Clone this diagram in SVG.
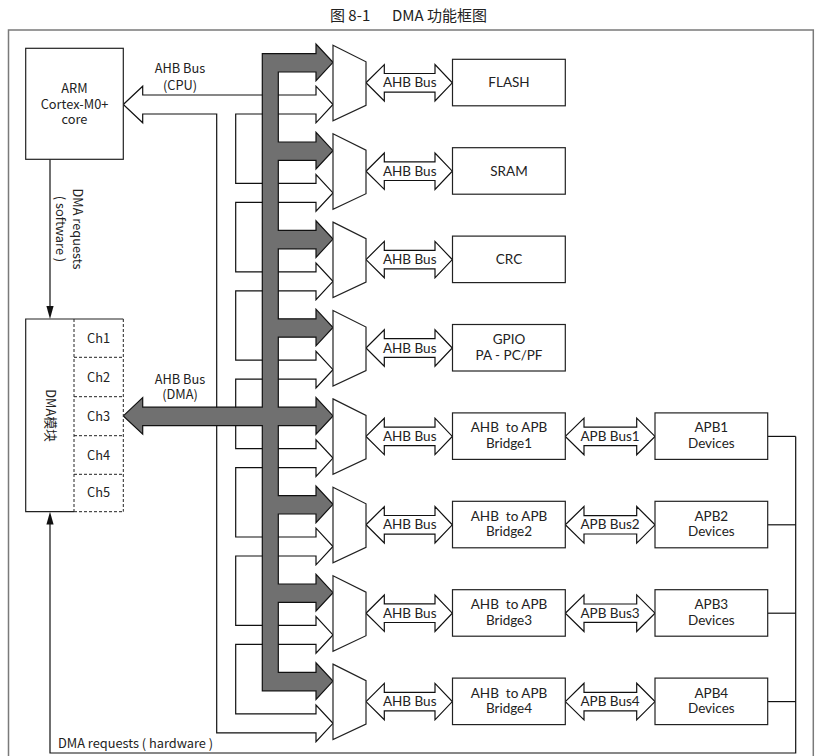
<svg xmlns="http://www.w3.org/2000/svg" width="820" height="756" viewBox="0 0 820 756">
<style>
.frame{fill:none;stroke:#7a7a7a;stroke-width:1.5}
.box{fill:#fff;stroke:#222;stroke-width:1.2}
.mux{fill:#fff;stroke:#222;stroke-width:1.2}
.dash{fill:none;stroke:#222;stroke-width:1;stroke-dasharray:3,2}
.ln{fill:none;stroke:#111;stroke-width:1.2}
.bus{fill:#fff;stroke:#111;stroke-width:1.2;stroke-linejoin:miter}
.gbus{fill:#707070;stroke:#111;stroke-width:1.2;stroke-linejoin:miter}
.ah{fill:#111;stroke:none}
.tl{font-family:"Noto Sans CJK SC","Noto Sans",sans-serif;font-size:12.8px;fill:#222;text-anchor:middle}
.tr{font-family:"Lato","Noto Sans",sans-serif;font-size:13.5px;fill:#222;text-anchor:middle}
.tt{font-family:"Noto Sans CJK SC","Noto Sans",sans-serif;font-size:15px;fill:#222}
</style>
<text class="tt" x="330" y="21">图 8-1</text>
<text class="tt" x="392" y="21">DMA 功能框图</text>
<rect class="frame" x="8.5" y="30" width="804.8" height="740"/>

<g id="connectors">
  <path class="bus" d="M123.3,104.5 L142.7,86.2 V95 H316 V86.2 L333,104.5 L316,122.8 V114 H235.7 V183.4 H316 V174.6 L333,192.9 L316,211.2 V202.4 H235.7 V271.8 H316 V263 L333,281.3 L316,299.6 V290.8 H235.7 V360.2 H316 V351.4 L333,369.7 L316,388 V379.2 H235.7 V448.6 H316 V439.8 L333,458.1 L316,476.4 V467.6 H235.7 V537 H316 V528.2 L333,546.5 L316,564.8 V556 H235.7 V625.4 H316 V616.6 L333,634.9 L316,653.2 V644.4 H235.7 V713.8 H316 V705 L333,723.3 L316,741.6 V732.8 H216.7 V114 H142.7 V122.8 Z"/>
  <path class="gbus" d="M262.3,53.6 H316 V44 L333,62.3 L316,80.6 V72 H278.3 V142 H316 V132.4 L333,150.7 L316,169 V160.4 H278.3 V230.4 H316 V220.8 L333,239.1 L316,257.4 V248.8 H278.3 V318.8 H316 V309.2 L333,327.5 L316,345.8 V337.2 H278.3 V407.2 H316 V397.6 L333,415.9 L316,434.2 V425.6 H278.3 V495.6 H316 V486 L333,504.3 L316,522.6 V514 H278.3 V584 H316 V574.4 L333,592.7 L316,611 V602.4 H278.3 V672.4 H316 V662.8 L333,681.1 L316,699.4 V690.8 H262.3 V425.6 H142.7 V434.2 L123.3,415.9 L142.7,397.6 V407.2 H262.3 Z"/>
  <line class="ln" x1="50" y1="159.3" x2="50" y2="307"/>
  <polygon class="ah" points="46.4,306 53.6,306 50,319"/>
  <polyline class="ln" points="767.7,436.4 795.7,436.4"/>
  <polyline class="ln" points="767.7,524.8 795.7,524.8"/>
  <polyline class="ln" points="767.7,613.2 795.7,613.2"/>
  <polyline class="ln" points="767.7,701.6 795.7,701.6"/>
  <polyline class="ln" points="795.7,436.4 795.7,753 50,753 50,523"/>
  <polygon class="ah" points="46.4,524.5 53.6,524.5 50,511.7"/>
  <g transform="translate(0,45.3)"><path class="bus" d="M366,37.5 L384.3,19.3 V28.2 H435 V19.3 L452.3,37.5 L435,55.7 V46.8 H384.3 V55.7 Z"/></g>
  <g transform="translate(0,133.7)"><path class="bus" d="M366,37.5 L384.3,19.3 V28.2 H435 V19.3 L452.3,37.5 L435,55.7 V46.8 H384.3 V55.7 Z"/></g>
  <g transform="translate(0,222.1)"><path class="bus" d="M366,37.5 L384.3,19.3 V28.2 H435 V19.3 L452.3,37.5 L435,55.7 V46.8 H384.3 V55.7 Z"/></g>
  <g transform="translate(0,310.5)"><path class="bus" d="M366,37.5 L384.3,19.3 V28.2 H435 V19.3 L452.3,37.5 L435,55.7 V46.8 H384.3 V55.7 Z"/></g>
  <g transform="translate(0,398.9)"><path class="bus" d="M366,37.5 L384.3,19.3 V28.2 H435 V19.3 L452.3,37.5 L435,55.7 V46.8 H384.3 V55.7 Z"/><path class="bus" d="M565.3,37.5 L584,19.2 V28.3 H636.7 V19.2 L655,37.5 L636.7,55.8 V46.7 H584 V55.8 Z"/></g>
  <g transform="translate(0,487.3)"><path class="bus" d="M366,37.5 L384.3,19.3 V28.2 H435 V19.3 L452.3,37.5 L435,55.7 V46.8 H384.3 V55.7 Z"/><path class="bus" d="M565.3,37.5 L584,19.2 V28.3 H636.7 V19.2 L655,37.5 L636.7,55.8 V46.7 H584 V55.8 Z"/></g>
  <g transform="translate(0,575.7)"><path class="bus" d="M366,37.5 L384.3,19.3 V28.2 H435 V19.3 L452.3,37.5 L435,55.7 V46.8 H384.3 V55.7 Z"/><path class="bus" d="M565.3,37.5 L584,19.2 V28.3 H636.7 V19.2 L655,37.5 L636.7,55.8 V46.7 H584 V55.8 Z"/></g>
  <g transform="translate(0,664.1)"><path class="bus" d="M366,37.5 L384.3,19.3 V28.2 H435 V19.3 L452.3,37.5 L435,55.7 V46.8 H384.3 V55.7 Z"/><path class="bus" d="M565.3,37.5 L584,19.2 V28.3 H636.7 V19.2 L655,37.5 L636.7,55.8 V46.7 H584 V55.8 Z"/></g>
  <text class="tl" x="180" y="73">AHB Bus</text>
  <text class="tl" x="180" y="89.5">(CPU)</text>
  <text class="tl" x="180" y="384">AHB Bus</text>
  <text class="tl" x="180" y="399">(DMA)</text>
  <g transform="translate(72.5,229) rotate(90)"><text class="tl" x="0" y="0">DMA requests</text><text class="tl" x="0" y="16.5">( software )</text></g>
  <text class="tl" x="58" y="748" style="text-anchor:start">DMA requests ( hardware )</text>
  <g class="tr">
    <text x="409.7" y="87.3">AHB Bus</text>
    <text x="409.7" y="175.7">AHB Bus</text>
    <text x="409.7" y="264.1">AHB Bus</text>
    <text x="409.7" y="352.5">AHB Bus</text>
    <text x="409.7" y="440.9">AHB Bus</text>
    <text x="409.7" y="529.3">AHB Bus</text>
    <text x="409.7" y="617.7">AHB Bus</text>
    <text x="409.7" y="706.1">AHB Bus</text>
    <text x="610" y="440.9">APB Bus1</text>
    <text x="610" y="529.3">APB Bus2</text>
    <text x="610" y="617.7">APB Bus3</text>
    <text x="610" y="706.1">APB Bus4</text>
  </g>
</g>

<g id="arm-core">
  <rect class="box" x="25.7" y="48.3" width="97.6" height="111"/>
  <text class="tl" x="74.5" y="92.5">ARM</text>
  <text class="tl" x="74.5" y="108.5">Cortex-M0+</text>
  <text class="tl" x="74.5" y="123.5">core</text>
</g>

<g id="dma-module">
  <rect x="25.7" y="319" width="97.6" height="192.7" fill="#fff" stroke="none"/>
  <polyline class="box" points="74,511.7 25.7,511.7 25.7,319 123.3,319" style="fill:none"/>
  <line class="dash" x1="74" y1="319" x2="74" y2="511.7"/>
  <line class="dash" x1="123.3" y1="319" x2="123.3" y2="511.7"/>
  <line class="dash" x1="74" y1="511.7" x2="123.3" y2="511.7"/>
  <line class="dash" x1="74" y1="357.3" x2="123.3" y2="357.3"/>
  <line class="dash" x1="74" y1="396.7" x2="123.3" y2="396.7"/>
  <line class="dash" x1="74" y1="435.7" x2="123.3" y2="435.7"/>
  <line class="dash" x1="74" y1="474.3" x2="123.3" y2="474.3"/>
  <text class="tl" x="98.5" y="343">Ch1</text>
  <text class="tl" x="98.5" y="382.3">Ch2</text>
  <text class="tl" x="98.5" y="421.3">Ch3</text>
  <text class="tl" x="98.5" y="459.6">Ch4</text>
  <text class="tl" x="98.5" y="497.3">Ch5</text>
  <g transform="translate(45.5,415.5) rotate(90)"><text class="tl" x="0" y="0">DMA模块</text></g>
</g>

<g id="mux1" transform="translate(0,45.3)"><polygon class="mux" points="333,0 366,16.5 366,60 333,75.5"/></g>
<g id="mux2" transform="translate(0,133.7)"><polygon class="mux" points="333,0 366,16.5 366,60 333,75.5"/></g>
<g id="mux3" transform="translate(0,222.1)"><polygon class="mux" points="333,0 366,16.5 366,60 333,75.5"/></g>
<g id="mux4" transform="translate(0,310.5)"><polygon class="mux" points="333,0 366,16.5 366,60 333,75.5"/></g>
<g id="mux5" transform="translate(0,398.9)"><polygon class="mux" points="333,0 366,16.5 366,60 333,75.5"/></g>
<g id="mux6" transform="translate(0,487.3)"><polygon class="mux" points="333,0 366,16.5 366,60 333,75.5"/></g>
<g id="mux7" transform="translate(0,575.7)"><polygon class="mux" points="333,0 366,16.5 366,60 333,75.5"/></g>
<g id="mux8" transform="translate(0,664.1)"><polygon class="mux" points="333,0 366,16.5 366,60 333,75.5"/></g>

<g id="flash" transform="translate(0,45.3)"><rect class="box" x="452.5" y="14" width="112.8" height="46.5"/><text class="tr" x="509" y="42">FLASH</text></g>
<g id="sram" transform="translate(0,133.7)"><rect class="box" x="452.5" y="14" width="112.8" height="46.5"/><text class="tr" x="509" y="42">SRAM</text></g>
<g id="crc" transform="translate(0,222.1)"><rect class="box" x="452.5" y="14" width="112.8" height="46.5"/><text class="tr" x="509" y="42">CRC</text></g>
<g id="gpio" transform="translate(0,310.5)"><rect class="box" x="452.5" y="14" width="112.8" height="46.5"/><text class="tr" x="509" y="33.5">GPIO</text><text class="tr" x="509" y="49">PA - PC/PF</text></g>

<g id="bridge1" transform="translate(0,398.9)"><rect class="box" x="452.5" y="14" width="112.8" height="46.5"/><text class="tr" x="509" y="33.5" xml:space="preserve">AHB  to APB</text><text class="tr" x="509" y="49">Bridge1</text></g>
<g id="bridge2" transform="translate(0,487.3)"><rect class="box" x="452.5" y="14" width="112.8" height="46.5"/><text class="tr" x="509" y="33.5" xml:space="preserve">AHB  to APB</text><text class="tr" x="509" y="49">Bridge2</text></g>
<g id="bridge3" transform="translate(0,575.7)"><rect class="box" x="452.5" y="14" width="112.8" height="46.5"/><text class="tr" x="509" y="33.5" xml:space="preserve">AHB  to APB</text><text class="tr" x="509" y="49">Bridge3</text></g>
<g id="bridge4" transform="translate(0,664.1)"><rect class="box" x="452.5" y="14" width="112.8" height="46.5"/><text class="tr" x="509" y="33.5" xml:space="preserve">AHB  to APB</text><text class="tr" x="509" y="49">Bridge4</text></g>

<g id="apb1" transform="translate(0,398.9)"><rect class="box" x="655" y="14" width="112.7" height="46.5"/><text class="tr" x="711.3" y="33.5">APB1</text><text class="tr" x="711.3" y="49">Devices</text></g>
<g id="apb2" transform="translate(0,487.3)"><rect class="box" x="655" y="14" width="112.7" height="46.5"/><text class="tr" x="711.3" y="33.5">APB2</text><text class="tr" x="711.3" y="49">Devices</text></g>
<g id="apb3" transform="translate(0,575.7)"><rect class="box" x="655" y="14" width="112.7" height="46.5"/><text class="tr" x="711.3" y="33.5">APB3</text><text class="tr" x="711.3" y="49">Devices</text></g>
<g id="apb4" transform="translate(0,664.1)"><rect class="box" x="655" y="14" width="112.7" height="46.5"/><text class="tr" x="711.3" y="33.5">APB4</text><text class="tr" x="711.3" y="49">Devices</text></g>
</svg>
